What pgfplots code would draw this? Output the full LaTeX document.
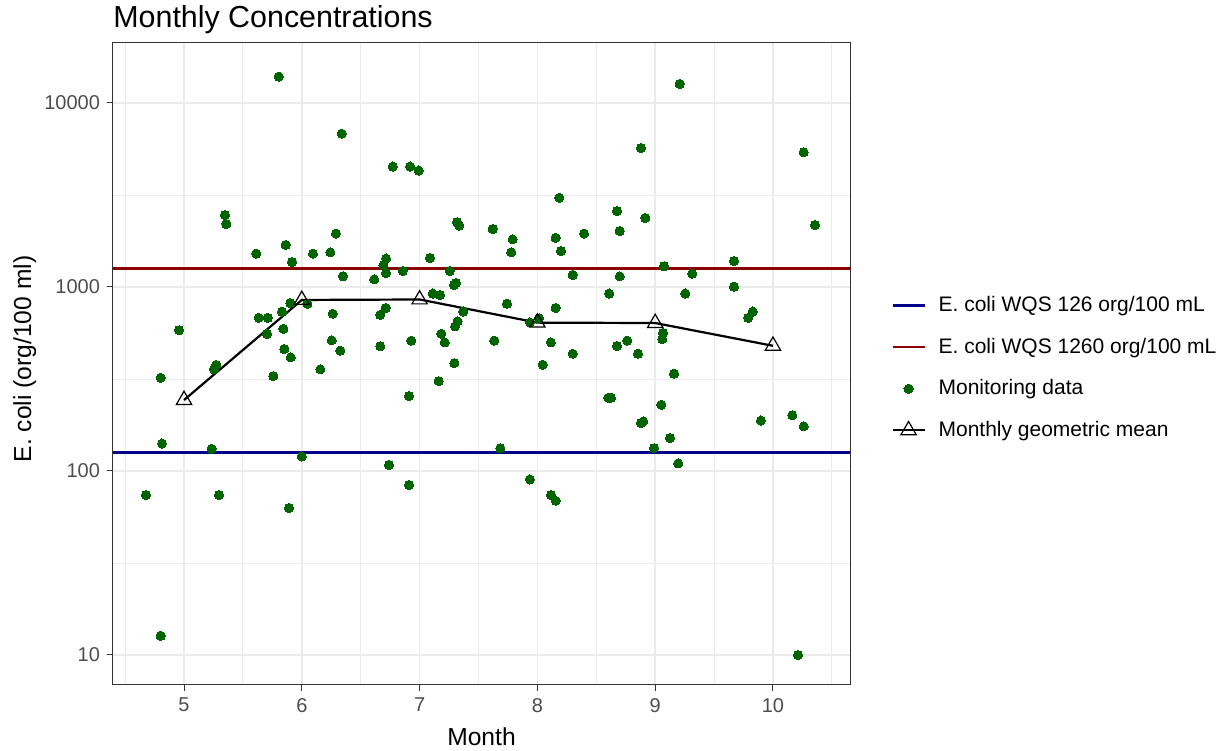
\documentclass[border=0pt]{standalone}
\usepackage{pgfplots}
\pgfplotsset{compat=1.18}
\usepackage{pgfplotstable}
\usepackage{fontspec}
\setmainfont{Liberation Sans}

\definecolor{ptgreen}{HTML}{006400}
\definecolor{wqsblue}{HTML}{00008B}
\definecolor{wqsred}{HTML}{8B0000}
\definecolor{gridgray}{HTML}{EBEBEB}
\definecolor{framegray}{HTML}{333333}
\definecolor{ticktext}{HTML}{4D4D4D}

% monitoring samples: month (jittered), E. coli (org/100 ml)
\pgfplotstableread{
month conc
4.677 74
4.802 321
4.813 141
4.958 582
4.802 12.7
5.274 377
5.255 357
5.235 132
5.297 74
5.348 2460
5.359 2200
5.614 1518
5.634 680
5.711 680
5.705 556
5.758 328
5.804 13900
5.832 734
5.843 592
5.851 460
5.863 1692
5.902 818
5.906 415
5.891 63
5.917 1367
5.999 120
6.047 811
6.095 1518
6.157 357
6.242 1544
6.262 716
6.254 513
6.290 1950
6.327 451
6.339 6810
6.350 1143
6.615 1101
6.666 705
6.666 477
6.692 1313
6.715 1427
6.715 1192
6.712 769
6.740 108
6.772 4510
6.857 1222
6.910 255
6.910 84
6.919 4510
6.930 511
6.992 4290
7.088 1438
7.111 921
7.173 905
7.162 308
7.184 557
7.213 500
7.256 1222
7.292 1025
7.295 386
7.301 611
7.309 1051
7.318 2250
7.323 651
7.337 2155
7.371 735
7.621 2066
7.634 511
7.685 133
7.742 811
7.778 1544
7.790 1816
7.937 90
7.937 642
8.014 676
8.045 378
8.115 500
8.115 74
8.155 69
8.155 1852
8.155 769
8.186 3055
8.200 1570
8.300 1162
8.300 434
8.396 1950
8.602 250
8.625 250
8.610 921
8.676 2590
8.676 477
8.699 2014
8.699 1143
8.763 511
8.854 434
8.879 5690
8.879 182
8.899 186
8.916 2372
8.990 133
9.052 229
9.060 521
9.066 562
9.075 1296
9.126 151
9.160 338
9.196 110
9.208 12680
9.256 921
9.315 1181
9.669 1384
9.669 1004
9.790 680
9.828 735
9.898 188
10.164 201
10.212 10
10.261 5400
10.261 175
10.357 2174
}\monitoring

\pgfplotstableread{
month gmean
5 243
6 850
7 855
8 640
9 637
10 479
}\geomean

\begin{document}
\begin{tikzpicture}[x=1pt,y=1pt]
\path[use as bounding box] (-56.5,-32.5) rectangle (556.5,342.5);
\begin{axis}[
  at={(0,0)}, anchor=south west,
  scale only axis, width=368.5pt, height=321pt,
  xmin=4.397, xmax=10.654,
  ymode=log, ymin=6.87, ymax=21180,
  xtick={5,6,7,8,9,10},
  xticklabels={5,6,7,8,9,10},
  ytick={10,100,1000,10000},
  yticklabels={10,100,1000,10000},
  minor xtick={4.5,5.5,6.5,7.5,8.5,9.5,10.5},
  minor ytick={3.162,31.62,316.2,3162,31623},
  grid=both,
  major grid style={draw=gridgray, line width=0.7pt},
  minor grid style={draw=gridgray, line width=0.45pt},
  axis line style={draw=framegray, line width=0.5pt},
  tick align=outside,
  xtick pos=left, ytick pos=left,
  major tick length=3pt, minor tick length=0pt,
  tick style={draw=framegray, line width=0.5pt},
  tick label style={font=\fontsize{10}{12}\selectfont, text=ticktext},
  label style={font=\fontsize{12.3}{14}\selectfont},
  xlabel={Month},
  ylabel={E. coli (org/100 ml)},
  xlabel style={at={(axis description cs:0.5,-0.0935)}, anchor=base},
  ylabel style={at={(axis description cs:-0.111,0.508)}, anchor=base, rotate=0},
  title={Monthly Concentrations},
  title style={at={(axis description cs:0,1)}, anchor=base west,
    inner sep=0pt, yshift=1.5pt, font=\fontsize{15.2}{17}\selectfont},
  legend image code/.code={%
    \draw[mark repeat=2,mark phase=2,#1] plot coordinates {(0pt,0pt) (8pt,0pt) (16pt,0pt)};
    \path[draw=none,fill=none] (16pt,0pt) -- (21pt,0pt);},
  legend style={at={(axis description cs:1.0556,0.494)}, anchor=west,
    draw=none, fill=none, font=\fontsize{10.5}{12}\selectfont,
    row sep=7.7pt, inner sep=0pt},
  legend cell align=left,
]
\addplot[wqsblue, line width=1.2pt] coordinates {(4.397,126) (10.654,126)};
\addlegendentry{E. coli WQS 126 org/100 mL}
\addplot[wqsred, line width=1.2pt] coordinates {(4.397,1260) (10.654,1260)};
\addlegendentry{E. coli WQS 1260 org/100 mL}
\addplot[only marks, mark=*, mark size=2.3pt,
  mark options={draw=ptgreen, fill=ptgreen, line width=0pt}]
  table[x=month, y=conc] {\monitoring};
\addlegendentry{Monitoring data}
\addplot[black, line width=1.1pt, mark=triangle, mark size=4.4pt,
  mark options={draw=black, line width=0.6pt}]
  table[x=month, y=gmean] {\geomean};
\addlegendentry{Monthly geometric mean}
\end{axis}
\end{tikzpicture}
\end{document}
